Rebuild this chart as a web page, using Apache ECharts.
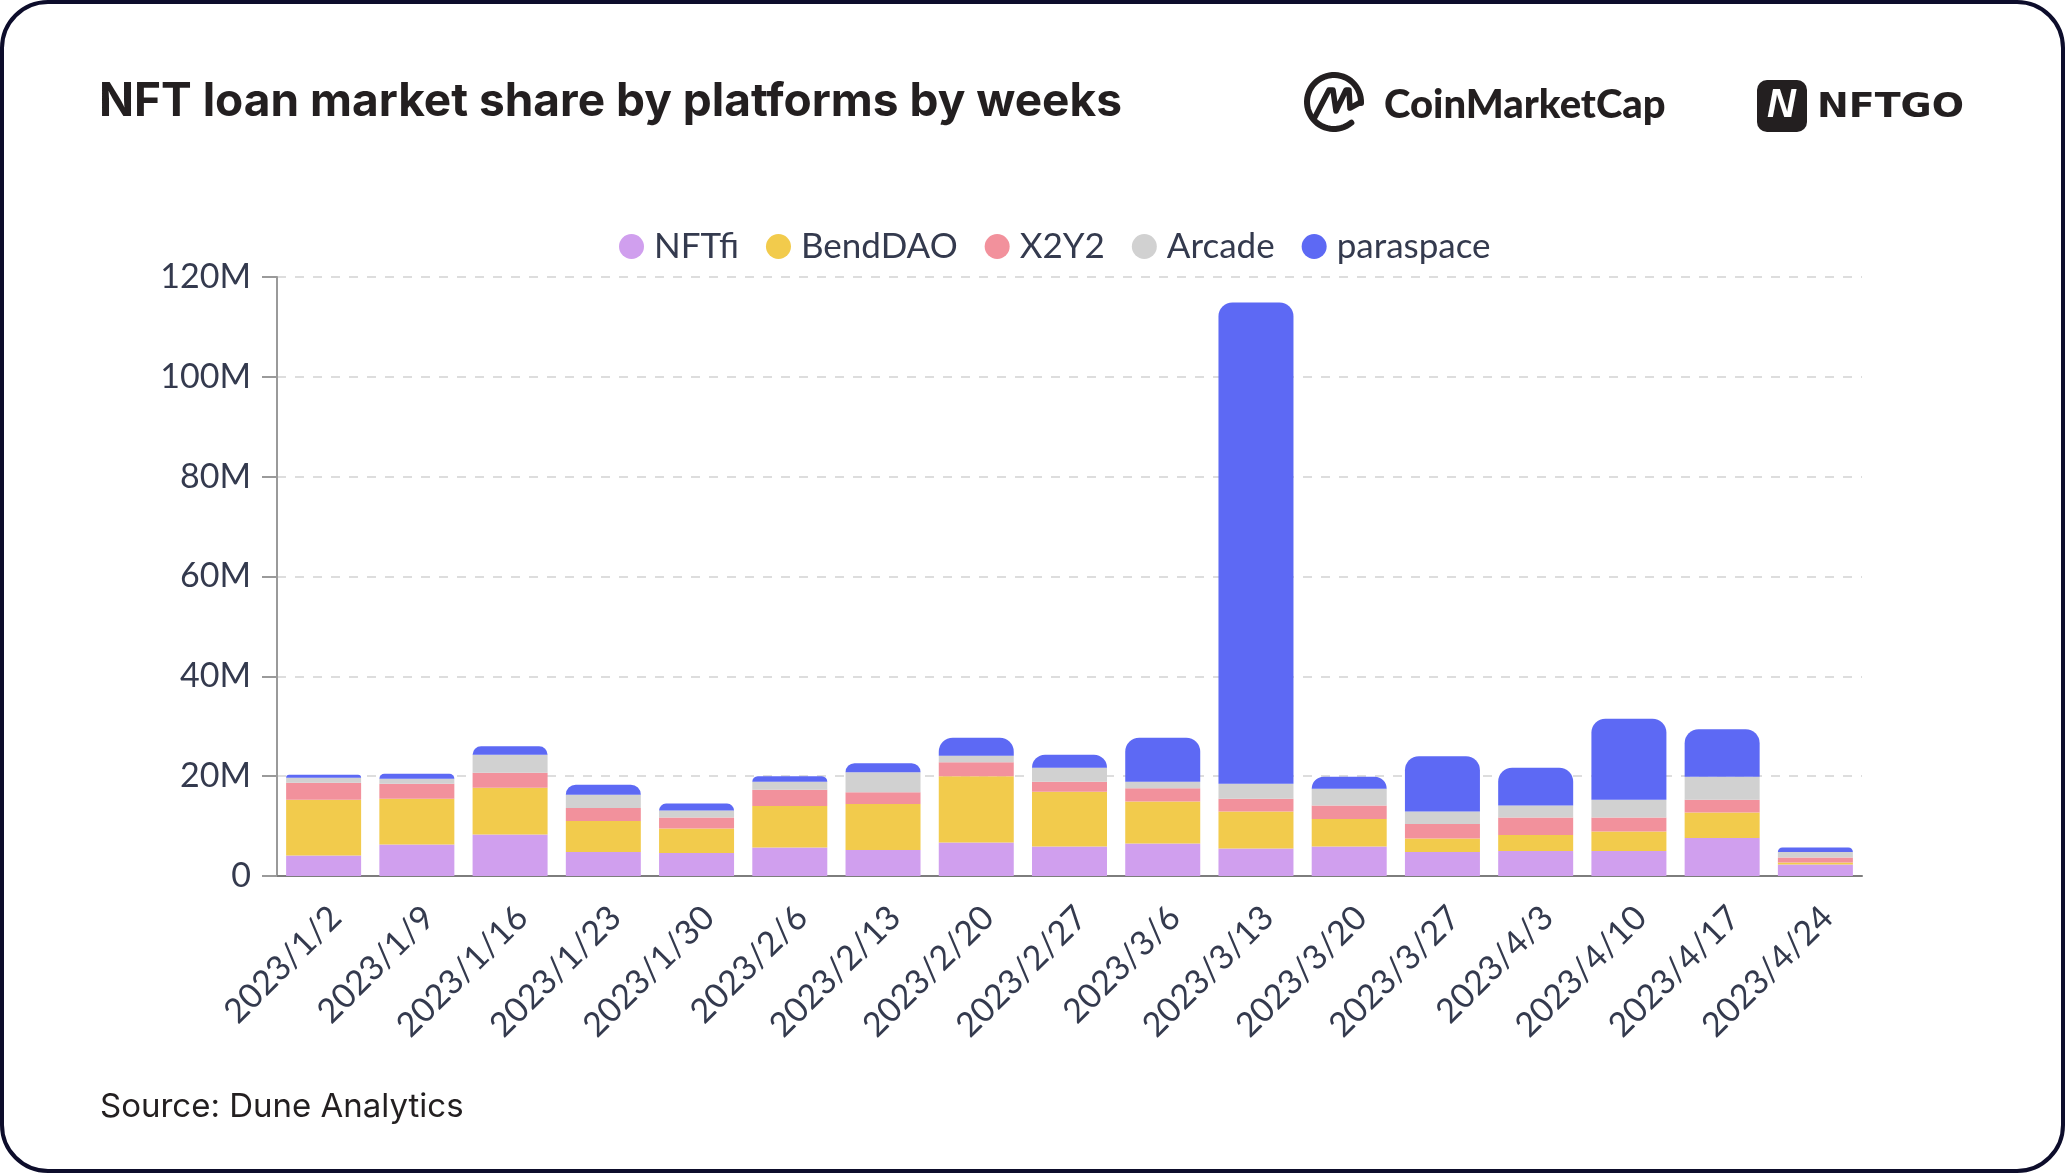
<!DOCTYPE html>
<html>
<head>
<meta charset="utf-8">
<title>NFT loan market share by platforms by weeks</title>
<script src="https://cdn.jsdelivr.net/npm/echarts@6/dist/echarts.min.js"></script>
<style>
html,body{margin:0;padding:0;background:#fff}
#chart{width:2065px;height:1173px}
</style>
</head>
<body>
<div id="chart"></div>
<script>
var weeks = ['2023/1/2','2023/1/9','2023/1/16','2023/1/23','2023/1/30','2023/2/6','2023/2/13','2023/2/20','2023/2/27','2023/3/6','2023/3/13','2023/3/20','2023/3/27','2023/4/3','2023/4/10','2023/4/17','2023/4/24'];
// values in millions
var nftfi     = [4.1,6.3,8.3,4.8,4.6,5.7,5.2,6.7,5.9,6.5,5.5,5.9,4.8,5.0,5.0,7.6,2.3];
var benddao   = [11.2,9.2,9.4,6.2,4.9,8.3,9.2,13.3,11.0,8.4,7.4,5.5,2.7,3.2,3.9,5.1,0.4];
var x2y2      = [3.4,3.0,3.0,2.6,2.2,3.3,2.4,2.8,2.0,2.7,2.6,2.7,2.9,3.5,2.8,2.6,1.0];
var arcade    = [1.0,1.0,3.6,2.7,1.4,1.6,4.0,1.3,2.8,1.3,3.0,3.4,2.5,2.4,3.6,4.6,1.1];
var paraspace = [0.6,1.0,1.7,2.0,1.4,1.1,1.8,3.6,2.6,8.8,96.4,2.4,11.1,7.6,16.2,9.5,0.9];

var textColor = '#343a4e';
var logoColor = '#231f20';
var M = 1000000;

function toSeries(name, values, color, top) {
    return {
        name: name,
        type: 'bar',
        stack: 'total',
        barWidth: 75,
        itemStyle: { color: color, borderRadius: top ? [14, 14, 0, 0] : 0 },
        data: values.map(function (v) { return v * M; })
    };
}

// open ring of the CoinMarketCap logo
function ringPoints(cx, cy, r) {
    var pts = [];
    for (var a = 50; a <= 362; a += 6) {
        pts.push([cx + r * Math.cos(a * Math.PI / 180), cy + r * Math.sin(a * Math.PI / 180)]);
    }
    return pts;
}

var chart = echarts.init(document.getElementById('chart'));
chart.setOption({
    animation: false,
    backgroundColor: '#fff',
    title: {
        text: 'NFT loan market share by platforms by weeks',
        left: 94, top: 74,
        textStyle: { fontFamily: 'Inter', fontWeight: 700, fontSize: 46, color: logoColor }
    },
    legend: {
        top: 224, left: 614,
        icon: 'circle',
        itemWidth: 25, itemHeight: 25, itemGap: 27,
        textStyle: { fontFamily: 'Lato', fontSize: 35, color: textColor, padding: [0, 0, 0, 5] }
    },
    grid: { left: 277, right: 203, top: 277, bottom: 297 },
    xAxis: {
        type: 'category',
        data: weeks,
        axisTick: { show: false },
        axisLine: { lineStyle: { color: '#7d7d7d', width: 2 } },
        axisLabel: { rotate: 45, margin: 24, verticalAlign: 'top', fontFamily: 'Lato', fontSize: 34, color: textColor, interval: 0 }
    },
    yAxis: {
        type: 'value',
        min: 0, max: 120 * M, interval: 20 * M,
        axisLine: { show: true, lineStyle: { color: '#9a9a9a', width: 2 } },
        axisTick: { show: true, length: 15, lineStyle: { color: '#9a9a9a', width: 2 } },
        axisLabel: {
            margin: 26, padding: [8, 0, 0, 0], fontFamily: 'Lato', fontSize: 34, color: textColor,
            formatter: function (v) { return v === 0 ? '0' : (v / M) + 'M'; }
        },
        splitLine: { lineStyle: { color: '#dddddd', width: 2, type: [9, 9] } }
    },
    series: [
        toSeries('NFTfi', nftfi, '#d09fee'),
        toSeries('BendDAO', benddao, '#f2cb4c'),
        toSeries('X2Y2', x2y2, '#f2919c'),
        toSeries('Arcade', arcade, '#d1d1d1'),
        toSeries('paraspace', paraspace, '#5d69f4', true)
    ],
    graphic: [
        // card border
        { type: 'rect', silent: true, z: 100,
          shape: { x: 2, y: 2, width: 2061, height: 1169, r: 46 },
          style: { fill: 'none', stroke: '#0d0d2b', lineWidth: 4 } },
        { type: 'text', left: 100, top: 1091, z: 100,
          style: { text: 'Source: Dune Analytics', fontFamily: 'Inter', fontSize: 33, fill: logoColor } },
        // CoinMarketCap logo
        { type: 'polyline', z: 100, silent: true,
          shape: { points: ringPoints(1334, 102, 27) },
          style: { fill: 'none', stroke: logoColor, lineWidth: 6, lineCap: 'round' } },
        { type: 'polyline', z: 100, silent: true,
          shape: { points: [[1315, 117], [1329, 90], [1333, 90], [1336, 111], [1346, 90], [1349, 90], [1350, 108], [1361, 102]] },
          style: { fill: 'none', stroke: logoColor, lineWidth: 5.5, lineJoin: 'round', lineCap: 'round' } },
        { type: 'text', left: 1384, top: 85, z: 100,
          style: { text: 'CoinMarketCap', fontFamily: 'Lato', fontWeight: 900, fontSize: 40, fill: logoColor } },
        // NFTGO logo
        { type: 'rect', z: 100, silent: true,
          shape: { x: 1757, y: 80, width: 50, height: 52, r: 10 },
          style: { fill: logoColor } },
        { type: 'text', left: 1767, top: 86, z: 101,
          style: { text: 'N', fontFamily: 'Liberation Sans', fontStyle: 'italic', fontWeight: 'bold', fontSize: 40, fill: '#fff' } },
        { type: 'text', x: 1817, y: 92, scaleX: 1.15, z: 100,
          style: { text: 'NFTGO', fontFamily: 'DejaVu Sans', fontWeight: 'bold', fontSize: 33, fill: logoColor } }
    ]
});
</script>
</body>
</html>
